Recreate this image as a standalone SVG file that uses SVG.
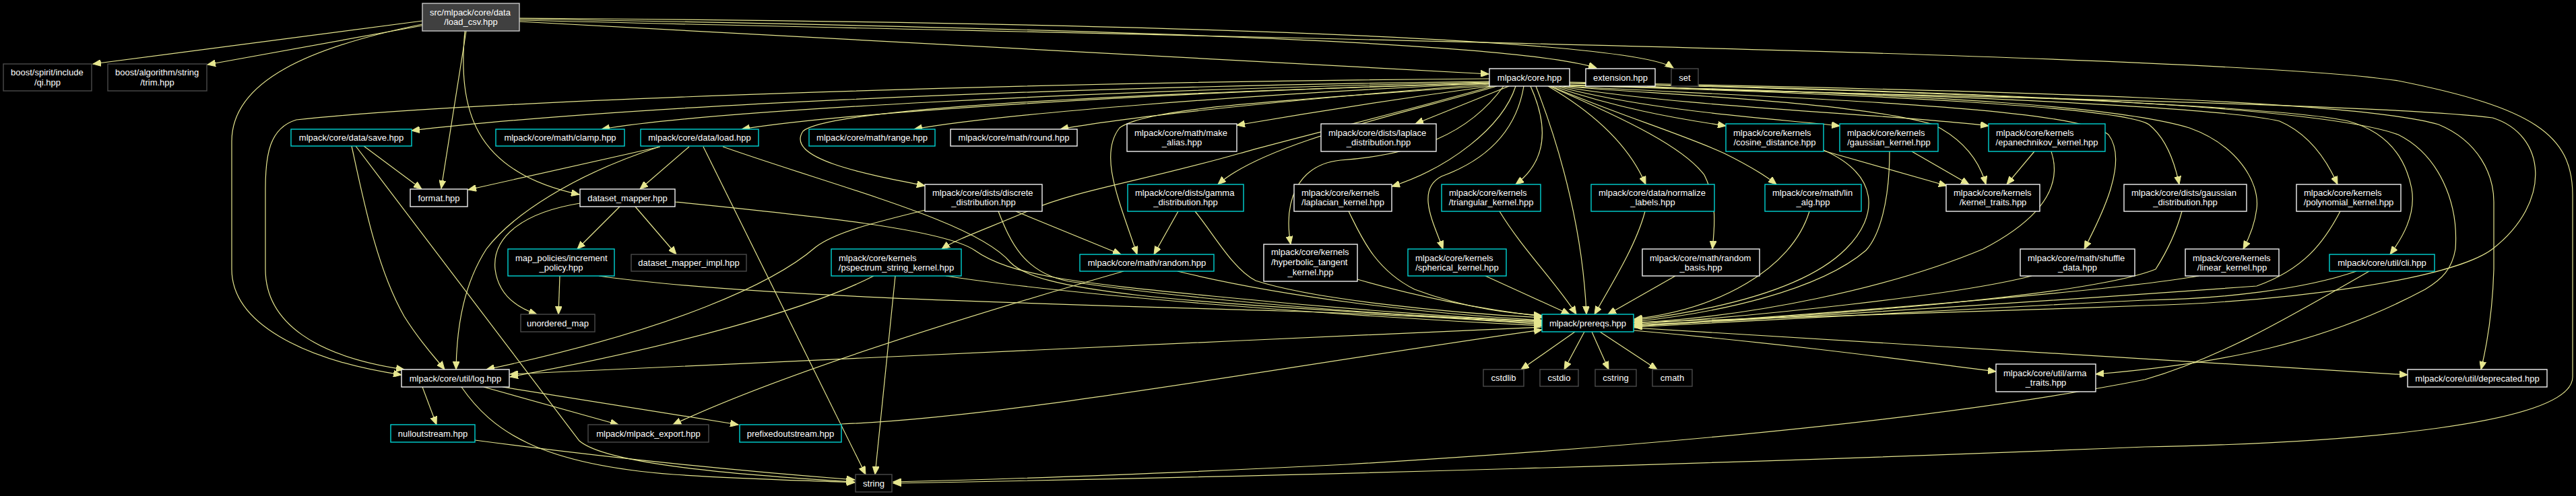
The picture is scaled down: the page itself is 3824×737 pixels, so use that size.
<svg xmlns="http://www.w3.org/2000/svg" width="3824" height="737" viewBox="0 0 3824 737">
<style>
.bg{fill:#000}
.edges path{fill:none;stroke:#e6e68f;stroke-width:1.2;marker-end:url(#ah)}
rect.w{fill:#000;stroke:#f2f2f2;stroke-width:1.4}
rect.t{fill:#000;stroke:#00d4d4;stroke-width:1.4}
rect.u{fill:#000;stroke:#4a4a4a;stroke-width:1.4}
rect.s{fill:#404040;stroke:#c8c8c8;stroke-width:1.4}
text{font-family:"Liberation Sans",Arial,Helvetica,sans-serif;font-size:13px;fill:#ffffff}
text.c{text-anchor:middle}
text.l{text-anchor:start}
</style>
<defs>
<marker id="ah" markerUnits="userSpaceOnUse" markerWidth="14" markerHeight="10" viewBox="0 0 14 10" refX="12" refY="5" orient="auto">
<path d="M0,0 L12,5 L0,10 Z" fill="#e6e68f" stroke="#e6e68f" stroke-width="1"/>
</marker>
</defs>
<rect class="bg" x="0" y="0" width="3824" height="737"/>
<g id="edges" class="edges">
<path d="M627,31 L138,95"/>
<path d="M627,38 L308,96"/>
<path d="M771,32 L2210,110"/>
<path d="M771,28 C1600,42 2250,62 2370,101"/>
<path d="M771,27 C1700,33 2420,58 2484,101"/>
<path d="M771,30 C1800,55 3300,80 3560,120 C3760,160 3819,200 3819,290 L3819,560 C3819,630 3500,658 3184,664 C2600,688 1900,708 1326,718"/>
<path d="M627,36 C460,70 344,120 344,210 L344,400 C344,480 450,535 596,557"/>
<path d="M692,46 L655,280"/>
<path d="M690,46 C680,160 700,255 860,289"/>
<path d="M2211,121 C1500,130 900,160 611,194"/>
<path d="M2211,117 C1500,122 700,150 440,178 C400,190 394,230 394,280 L394,400 C394,480 470,530 600,549"/>
<path d="M2211,122 C1600,135 1050,165 893,192"/>
<path d="M2211,123 C1700,138 1250,168 1101,192"/>
<path d="M2211,124 C1850,140 1480,170 1357,192"/>
<path d="M2211,125 C1950,145 1680,172 1574,192"/>
<path d="M2213,128 C2050,150 1900,175 1836,186"/>
<path d="M2211,124 C1700,138 1230,160 1192,195 C1165,235 1280,258 1373,276"/>
<path d="M2222,128 C2100,165 1880,210 1808,274"/>
<path d="M2216,128 C2050,175 1920,205 1840,228 C1700,268 1600,282 1530,312 C1465,340 1420,355 1398,370"/>
<path d="M2213,127 C1900,150 1700,160 1662,190 C1630,230 1662,300 1688,378"/>
<path d="M2232,128 C2180,200 2100,230 1990,238 C1925,245 1905,300 1916,363"/>
<path d="M2250,128 C2230,190 2150,250 2066,277"/>
<path d="M2262,128 C2250,200 2200,240 2140,262 C2100,282 2130,335 2142,370"/>
<path d="M2272,128 C2300,190 2295,240 2250,274"/>
<path d="M2280,128 C2320,230 2350,350 2355,467"/>
<path d="M2298,128 C2370,170 2420,220 2443,274"/>
<path d="M2240,128 L2101,184"/>
<path d="M2305,128 C2400,160 2480,175 2562,187"/>
<path d="M2310,128 C2450,165 2620,175 2731,187"/>
<path d="M2314,128 C2500,160 2820,170 2952,187"/>
<path d="M2302,128 C2400,170 2500,200 2560,228 C2600,248 2620,260 2637,274"/>
<path d="M2318,128 C2450,140 2750,150 2870,185 C2920,210 2940,245 2948,274"/>
<path d="M2300,128 C2420,180 2500,220 2530,260 C2550,300 2545,340 2542,370"/>
<path d="M2322,128 C2700,148 3080,160 3130,200 C3160,240 3120,320 3094,370"/>
<path d="M2324,127 C2800,140 3150,160 3190,185 C3215,205 3228,240 3235,274"/>
<path d="M2326,127 C2900,140 3300,160 3384,180 C3430,200 3455,240 3470,274"/>
<path d="M2328,126 C2900,140 3150,160 3250,190 C3320,215 3355,270 3350,310 C3347,335 3338,355 3330,370"/>
<path d="M2330,124 C2900,135 3400,160 3486,180 C3540,195 3570,230 3580,280 C3587,320 3565,355 3548,378"/>
<path d="M2330,122 C3000,135 3500,150 3620,185 C3680,210 3702,260 3702,300 L3702,400 C3700,470 3690,520 3683,549"/>
<path d="M2330,123 C3000,137 3450,160 3560,200 C3620,230 3650,300 3645,370 C3640,400 3625,415 3600,430 C3450,510 3300,540 3111,556"/>
<path d="M2445,128 C2600,140 3500,150 3700,175 C3780,200 3790,300 3700,370 C3640,415 3400,448 3184,454 C2900,465 2600,475 2426,479"/>
<path d="M540,217 L626,281"/>
<path d="M522,217 C540,300 560,400 600,470 C625,510 645,530 660,549"/>
<path d="M528,217 L860,655 C900,690 1100,706 1268,716"/>
<path d="M980,218 L695,282"/>
<path d="M979,218 C850,260 760,320 722,370 C690,420 678,480 677,549"/>
<path d="M1023,218 L950,281"/>
<path d="M1044,218 L1285,705"/>
<path d="M1073,218 C1250,280 1450,330 1500,390 C1540,430 1700,450 2289,478"/>
<path d="M920,307 L857,370"/>
<path d="M943,307 L1004,378"/>
<path d="M861,302 C780,315 730,350 735,400 C740,440 770,458 797,467"/>
<path d="M1002,300 C1200,320 1400,340 1447,372 C1500,410 1600,420 1800,440 C2000,460 2200,474 2289,477"/>
<path d="M1374,312 C1300,330 1240,345 1211,367 C1150,420 1000,490 722,549"/>
<path d="M1508,314 L1664,378"/>
<path d="M1482,314 C1500,360 1520,405 1586,418 C1800,450 2100,470 2289,480"/>
<path d="M1749,314 L1713,378"/>
<path d="M1774,314 C1800,345 1830,400 1864,417 C1950,445 2150,465 2289,472"/>
<path d="M831,410 L829,467"/>
<path d="M889,410 C1100,440 1500,450 1900,462 C2100,468 2200,476 2289,482"/>
<path d="M1297,410 C1200,460 1000,515 757,560"/>
<path d="M1329,410 L1299,705"/>
<path d="M1404,410 C1600,440 2000,470 2289,484"/>
<path d="M1668,403 C1400,480 1150,560 999,631"/>
<path d="M1748,403 C1900,440 2100,465 2289,476"/>
<path d="M2015,415 C2100,440 2200,460 2289,470"/>
<path d="M2002,314 C2020,350 2040,400 2100,430 C2180,460 2250,466 2289,469"/>
<path d="M2205,410 L2330,467"/>
<path d="M2226,314 C2260,370 2310,420 2340,467"/>
<path d="M2442,314 C2430,360 2400,410 2367,467"/>
<path d="M2487,410 L2387,467"/>
<path d="M2686,314 C2660,400 2550,460 2426,474"/>
<path d="M2707,223 C2790,260 2790,320 2740,370 C2680,430 2550,460 2426,476"/>
<path d="M2805,225 C2805,300 2790,350 2770,372 C2700,432 2550,465 2426,478"/>
<path d="M2838,225 L2923,274"/>
<path d="M2707,224 L2890,276"/>
<path d="M3020,225 L2979,274"/>
<path d="M3045,225 C3060,270 3040,320 2944,370 C2800,430 2600,470 2426,480"/>
<path d="M3016,410 C2900,440 2600,470 2426,482"/>
<path d="M3239,314 C3232,340 3221,367 3200,400 C3100,440 2700,470 2426,483"/>
<path d="M3474,314 C3450,360 3420,400 3350,425 C3000,450 2700,470 2426,484"/>
<path d="M3264,410 C3150,430 2800,460 2426,485"/>
<path d="M3498,403 C3420,430 3300,444 3184,446 C2900,460 2600,475 2426,486"/>
<path d="M3517,403 C3400,470 3300,530 3184,564 C2900,620 2500,660 2000,690 C1700,705 1500,712 1326,716"/>
<path d="M2338,493 L2258,549"/>
<path d="M2352,493 L2322,549"/>
<path d="M2363,493 L2388,549"/>
<path d="M2375,493 L2460,549"/>
<path d="M2289,486 C2000,500 1500,520 1280,532 C1100,540 900,550 757,556"/>
<path d="M2425,491 C2700,515 2900,545 2963,552"/>
<path d="M2425,487 L3574,557"/>
<path d="M1249,630 C1500,620 1900,545 2289,490"/>
<path d="M627,575 L648,631"/>
<path d="M718,575 L918,631"/>
<path d="M746,575 L1096,631"/>
<path d="M685,575 C730,640 800,690 1000,705 C1100,712 1200,714 1269,717"/>
<path d="M705,654 C900,680 1100,700 1269,713"/>
</g>
<g id="n_load_csv"><rect class="s" x="627" y="5" width="144" height="41"/><text class="l" x="638" y="22.5">src/mlpack/core/data</text><text class="c" x="699" y="36.5">/load_csv.hpp</text></g>
<g id="n_qi"><rect class="u" x="5" y="95" width="131" height="40"/><text class="l" x="16" y="111.5">boost/spirit/include</text><text class="c" x="70.5" y="126.5">/qi.hpp</text></g>
<g id="n_trim"><rect class="u" x="160" y="95" width="147" height="40"/><text class="l" x="171" y="111.5">boost/algorithm/string</text><text class="c" x="233.5" y="126.5">/trim.hpp</text></g>
<g id="n_core"><rect class="w" x="2211" y="102" width="119" height="26"/><text class="c" x="2270.5" y="119.5">mlpack/core.hpp</text></g>
<g id="n_extension"><rect class="w" x="2354" y="102" width="103" height="26"/><text class="c" x="2405.5" y="119.5">extension.hpp</text></g>
<g id="n_set"><rect class="u" x="2481" y="102" width="40" height="26"/><text class="c" x="2501" y="119.5">set</text></g>
<g id="n_save"><rect class="t" x="432" y="192" width="179" height="25"/><text class="c" x="521.5" y="209">mlpack/core/data/save.hpp</text></g>
<g id="n_clamp"><rect class="t" x="736" y="192" width="191" height="25"/><text class="c" x="831.5" y="209">mlpack/core/math/clamp.hpp</text></g>
<g id="n_load"><rect class="t" x="951" y="192" width="175" height="25"/><text class="c" x="1038.5" y="209">mlpack/core/data/load.hpp</text></g>
<g id="n_range"><rect class="t" x="1201" y="192" width="187" height="25"/><text class="c" x="1294.5" y="209">mlpack/core/math/range.hpp</text></g>
<g id="n_round"><rect class="w" x="1411" y="192" width="188" height="25"/><text class="c" x="1505" y="209">mlpack/core/math/round.hpp</text></g>
<g id="n_make_alias"><rect class="w" x="1673" y="184" width="163" height="41"/><text class="l" x="1684" y="201.5">mlpack/core/math/make</text><text class="c" x="1754.5" y="215.5">_alias.hpp</text></g>
<g id="n_laplace_dist"><rect class="w" x="1961" y="184" width="171" height="41"/><text class="l" x="1972" y="201.5">mlpack/core/dists/laplace</text><text class="c" x="2046.5" y="215.5">_distribution.hpp</text></g>
<g id="n_cosine"><rect class="t" x="2562" y="184" width="145" height="41"/><text class="l" x="2573" y="201.5">mlpack/core/kernels</text><text class="c" x="2634.5" y="215.5">/cosine_distance.hpp</text></g>
<g id="n_gaussian_kernel"><rect class="t" x="2731" y="184" width="146" height="41"/><text class="l" x="2742" y="201.5">mlpack/core/kernels</text><text class="c" x="2804" y="215.5">/gaussian_kernel.hpp</text></g>
<g id="n_epanechnikov"><rect class="t" x="2952" y="184" width="173" height="41"/><text class="l" x="2963" y="201.5">mlpack/core/kernels</text><text class="c" x="3038.5" y="215.5">/epanechnikov_kernel.hpp</text></g>
<g id="n_format"><rect class="w" x="609" y="281" width="85" height="26"/><text class="c" x="651.5" y="298.5">format.hpp</text></g>
<g id="n_dataset_mapper"><rect class="w" x="861" y="281" width="141" height="26"/><text class="c" x="931.5" y="298.5">dataset_mapper.hpp</text></g>
<g id="n_discrete"><rect class="w" x="1373" y="274" width="174" height="40"/><text class="l" x="1384" y="290.5">mlpack/core/dists/discrete</text><text class="c" x="1460" y="305">_distribution.hpp</text></g>
<g id="n_gamma"><rect class="t" x="1674" y="274" width="172" height="40"/><text class="l" x="1685" y="290.5">mlpack/core/dists/gamma</text><text class="c" x="1760" y="305">_distribution.hpp</text></g>
<g id="n_laplacian"><rect class="w" x="1921" y="274" width="145" height="40"/><text class="l" x="1932" y="290.5">mlpack/core/kernels</text><text class="c" x="1993.5" y="305">/laplacian_kernel.hpp</text></g>
<g id="n_triangular"><rect class="t" x="2140" y="274" width="147" height="40"/><text class="l" x="2151" y="290.5">mlpack/core/kernels</text><text class="c" x="2213.5" y="305">/triangular_kernel.hpp</text></g>
<g id="n_normalize"><rect class="t" x="2362" y="274" width="183" height="40"/><text class="l" x="2373" y="290.5">mlpack/core/data/normalize</text><text class="c" x="2453.5" y="305">_labels.hpp</text></g>
<g id="n_lin_alg"><rect class="t" x="2620" y="274" width="143" height="40"/><text class="l" x="2631" y="290.5">mlpack/core/math/lin</text><text class="c" x="2691.5" y="305">_alg.hpp</text></g>
<g id="n_kernel_traits"><rect class="w" x="2889" y="274" width="139" height="40"/><text class="l" x="2900" y="290.5">mlpack/core/kernels</text><text class="c" x="2958.5" y="305">/kernel_traits.hpp</text></g>
<g id="n_gaussian_dist"><rect class="w" x="3153" y="274" width="182" height="40"/><text class="l" x="3164" y="290.5">mlpack/core/dists/gaussian</text><text class="c" x="3244" y="305">_distribution.hpp</text></g>
<g id="n_polynomial"><rect class="w" x="3409" y="274" width="155" height="40"/><text class="l" x="3420" y="290.5">mlpack/core/kernels</text><text class="c" x="3486.5" y="305">/polynomial_kernel.hpp</text></g>
<g id="n_map_policies"><rect class="t" x="754" y="370" width="158" height="40"/><text class="l" x="765" y="387.5">map_policies/increment</text><text class="c" x="833" y="401.5">_policy.hpp</text></g>
<g id="n_dataset_mapper_impl"><rect class="u" x="937" y="378" width="171" height="25"/><text class="c" x="1022.5" y="395">dataset_mapper_impl.hpp</text></g>
<g id="n_pspectrum"><rect class="t" x="1234" y="370" width="193" height="40"/><text class="l" x="1245" y="387.5">mlpack/core/kernels</text><text class="c" x="1330.5" y="401.5">/pspectrum_string_kernel.hpp</text></g>
<g id="n_random"><rect class="t" x="1603" y="378" width="199" height="25"/><text class="c" x="1702.5" y="395">mlpack/core/math/random.hpp</text></g>
<g id="n_hyperbolic"><rect class="w" x="1876" y="363" width="139" height="55"/><text class="l" x="1887" y="378.5">mlpack/core/kernels</text><text class="l" x="1887" y="393.5">/hyperbolic_tangent</text><text class="c" x="1945.5" y="408.5">_kernel.hpp</text></g>
<g id="n_spherical"><rect class="t" x="2090" y="370" width="146" height="40"/><text class="l" x="2101" y="387.5">mlpack/core/kernels</text><text class="c" x="2163" y="401.5">/spherical_kernel.hpp</text></g>
<g id="n_random_basis"><rect class="w" x="2438" y="370" width="174" height="40"/><text class="l" x="2449" y="387.5">mlpack/core/math/random</text><text class="c" x="2525" y="401.5">_basis.hpp</text></g>
<g id="n_shuffle"><rect class="w" x="2999" y="370" width="170" height="40"/><text class="l" x="3010" y="387.5">mlpack/core/math/shuffle</text><text class="c" x="3084" y="401.5">_data.hpp</text></g>
<g id="n_linear"><rect class="w" x="3244" y="370" width="139" height="40"/><text class="l" x="3255" y="387.5">mlpack/core/kernels</text><text class="c" x="3313.5" y="401.5">/linear_kernel.hpp</text></g>
<g id="n_cli"><rect class="t" x="3458" y="378" width="156" height="25"/><text class="c" x="3536" y="395">mlpack/core/util/cli.hpp</text></g>
<g id="n_unordered_map"><rect class="u" x="773" y="467" width="110" height="26"/><text class="c" x="828" y="484.5">unordered_map</text></g>
<g id="n_prereqs"><rect class="t" x="2289" y="467" width="136" height="26"/><text class="c" x="2357" y="484.5">mlpack/prereqs.hpp</text></g>
<g id="n_log"><rect class="w" x="596" y="549" width="160" height="26"/><text class="c" x="676" y="566.5">mlpack/core/util/log.hpp</text></g>
<g id="n_cstdlib"><rect class="u" x="2202" y="549" width="60" height="25"/><text class="c" x="2232" y="566">cstdlib</text></g>
<g id="n_cstdio"><rect class="u" x="2286" y="549" width="57" height="25"/><text class="c" x="2314.5" y="566">cstdio</text></g>
<g id="n_cstring"><rect class="u" x="2368" y="549" width="61" height="25"/><text class="c" x="2398.5" y="566">cstring</text></g>
<g id="n_cmath"><rect class="u" x="2453" y="549" width="59" height="25"/><text class="c" x="2482.5" y="566">cmath</text></g>
<g id="n_arma_traits"><rect class="w" x="2963" y="541" width="148" height="41"/><text class="l" x="2974" y="558.5">mlpack/core/util/arma</text><text class="c" x="3037" y="572.5">_traits.hpp</text></g>
<g id="n_deprecated"><rect class="w" x="3574" y="549" width="207" height="26"/><text class="c" x="3677.5" y="566.5">mlpack/core/util/deprecated.hpp</text></g>
<g id="n_nulloutstream"><rect class="t" x="580" y="631" width="125" height="26"/><text class="c" x="642.5" y="648.5">nulloutstream.hpp</text></g>
<g id="n_mlpack_export"><rect class="u" x="873" y="631" width="179" height="26"/><text class="c" x="962.5" y="648.5">mlpack/mlpack_export.hpp</text></g>
<g id="n_prefixedoutstream"><rect class="t" x="1098" y="631" width="151" height="26"/><text class="c" x="1173.5" y="648.5">prefixedoutstream.hpp</text></g>
<g id="n_string"><rect class="u" x="1270" y="705" width="54" height="26"/><text class="c" x="1297" y="722.5">string</text></g>
</svg>
